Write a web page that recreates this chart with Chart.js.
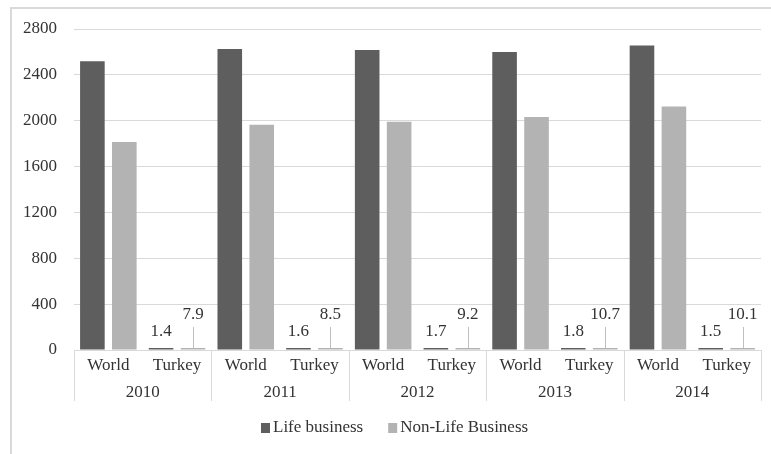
<!DOCTYPE html>
<html>
<head>
<meta charset="utf-8">
<script src="https://cdn.jsdelivr.net/npm/chart.js@4/dist/chart.umd.min.js"></script>
<style>
  html, body { margin: 0; padding: 0; background: #ffffff; }
  #wrap { width: 771px; height: 454px; position: relative; }
</style>
</head>
<body>
<div id="wrap"><canvas id="c" width="771" height="454"></canvas></div>
<script>
// ---- Data ----
const years = ['2010', '2011', '2012', '2013', '2014'];
const regions = ['World', 'Turkey'];
const lifeWorld = [2518, 2626, 2617, 2600, 2655];
const lifeTurkey = [1.4, 1.6, 1.7, 1.8, 1.5];
const nonLifeWorld = [1814, 1965, 1991, 2032, 2125];
const nonLifeTurkey = [7.9, 8.5, 9.2, 10.7, 10.1];
const seriesNames = ['Life business', 'Non-Life Business'];
const yTicks = [0, 400, 800, 1200, 1600, 2000, 2400, 2800];

// Build flat category list (World/Turkey per year)
const labels = [];
const lifeData = [];
const nonLifeData = [];
years.forEach((y, i) => {
  labels.push(regions[0]); lifeData.push(lifeWorld[i]); nonLifeData.push(nonLifeWorld[i]);
  labels.push(regions[1]); lifeData.push(lifeTurkey[i]); nonLifeData.push(nonLifeTurkey[i]);
});

const FONT = "'Liberation Serif', 'Times New Roman', serif";
const TEXT = '#333333';
const LINE = '#d9d9d9';
const colors = ['#5e5e5e', '#b3b3b3'];

const extras = {
  id: 'extras',
  beforeDraw(chart) {
    const ctx = chart.ctx;
    ctx.save();
    ctx.fillStyle = '#ffffff';
    ctx.fillRect(0, 0, chart.width, chart.height);
    ctx.strokeStyle = LINE;
    ctx.lineWidth = 2;
    ctx.beginPath();
    ctx.moveTo(10, 8); ctx.lineTo(chart.width, 8);
    ctx.moveTo(11, 7); ctx.lineTo(11, chart.height);
    ctx.stroke();
    ctx.restore();
  },
  afterDatasetsDraw(chart) {
    const ctx = chart.ctx;
    const xs = chart.scales.x;
    const area = chart.chartArea;
    ctx.save();
    // group separators and year labels
    ctx.strokeStyle = LINE;
    ctx.lineWidth = 1;
    const catW = (xs.right - xs.left) / labels.length;
    ctx.beginPath();
    for (let k = 0; k <= years.length; k++) {
      const x = Math.round(xs.left + k * 2 * catW) + 0.5;
      ctx.moveTo(x, area.bottom);
      ctx.lineTo(x, area.bottom + 51);
    }
    ctx.stroke();
    ctx.fillStyle = TEXT;
    ctx.font = '17px ' + FONT;
    ctx.textAlign = 'center';
    ctx.textBaseline = 'middle';
    years.forEach((y, i) => {
      const x = xs.left + (2 * i + 1) * catW;
      ctx.fillText(y, x, area.bottom + 43);
    });
    // data labels on Turkey bars
    const m0 = chart.getDatasetMeta(0);
    const m1 = chart.getDatasetMeta(1);
    years.forEach((y, i) => {
      const idx = 2 * i + 1;
      const b0 = m0.data[idx];
      const b1 = m1.data[idx];
      ctx.fillStyle = TEXT;
      ctx.fillText(String(lifeTurkey[i]), b0.x, area.bottom - 18);
      ctx.strokeStyle = '#bfbfbf';
      ctx.beginPath();
      ctx.moveTo(Math.round(b1.x) + 0.5, area.bottom - 23);
      ctx.lineTo(Math.round(b1.x) + 0.5, b1.y);
      ctx.stroke();
      ctx.fillText(String(nonLifeTurkey[i]), b1.x, area.bottom - 35);
    });
    // legend
    ctx.font = '17px ' + FONT;
    ctx.textAlign = 'left';
    const ly = 428;
    let x = 261;
    seriesNames.forEach((name, i) => {
      ctx.fillStyle = colors[i];
      ctx.fillRect(x, ly - 5, 9, 10);
      ctx.fillStyle = TEXT;
      ctx.fillText(name, x + 12, ly);
      x += 12 + ctx.measureText(name).width + 25;
    });
    ctx.restore();
  }
};

new Chart(document.getElementById('c'), {
  type: 'bar',
  data: {
    labels: labels,
    datasets: [
      { label: seriesNames[0], data: lifeData, backgroundColor: colors[0], borderWidth: 0 },
      { label: seriesNames[1], data: nonLifeData, backgroundColor: colors[1], borderWidth: 0 }
    ]
  },
  options: {
    responsive: false,
    animation: false,
    devicePixelRatio: 1,
    layout: { padding: { top: 29, right: 10, left: 0, bottom: 0 } },
    datasets: { bar: { barPercentage: 0.77, categoryPercentage: 0.93, minBarLength: 2 } },
    plugins: { legend: { display: false }, tooltip: { enabled: false } },
    scales: {
      x: {
        grid: { display: false, drawTicks: false },
        border: { display: true, color: LINE, width: 1 },
        ticks: { color: TEXT, font: { family: FONT, size: 17 }, padding: 5, autoSkip: false, maxRotation: 0 },
        afterFit(s) { s.height = 104; }
      },
      y: {
        min: 0, max: 2800,
        afterBuildTicks(s) { s.ticks = yTicks.map(v => ({ value: v })); },
        grid: { color: LINE, drawTicks: false, lineWidth: 1 },
        border: { display: false },
        ticks: { color: TEXT, font: { family: FONT, size: 17 }, padding: 17, callback: (v) => String(v) },
        afterFit(s) { s.width = 74; }
      }
    }
  },
  plugins: [extras]
});
</script>
</body>
</html>
